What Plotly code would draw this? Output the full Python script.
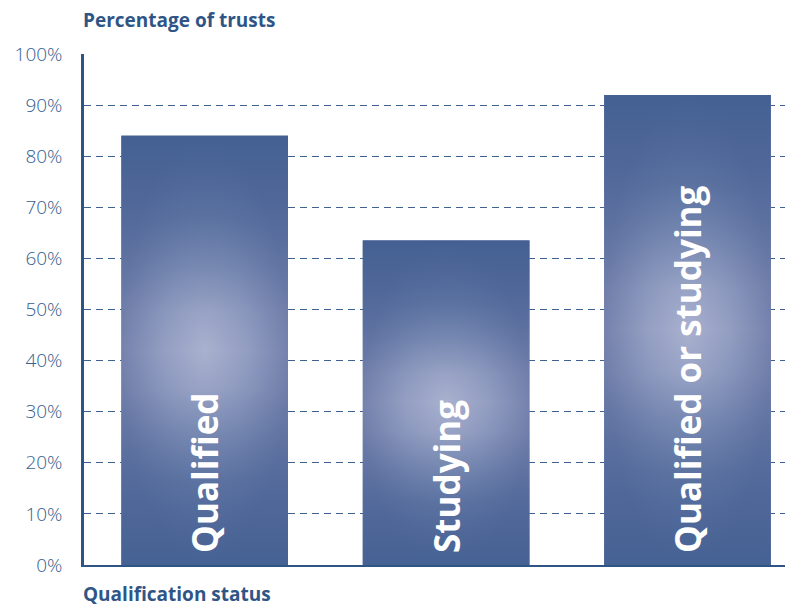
import plotly.graph_objects as go

categories = ["Qualified", "Studying", "Qualified or studying"]
values = [84, 63.5, 92]
y_ticks = [0, 10, 20, 30, 40, 50, 60, 70, 80, 90, 100]
y_tick_labels = [f"{t}%" for t in y_ticks]

BAR_W = 0.69
DARK = "#2f5587"
TICK_COL = "#36608f"
positions = list(range(len(categories)))

fig = go.Figure()

# base bars (solid)
fig.add_trace(go.Bar(
    x=positions, y=values, width=BAR_W,
    marker=dict(color="#5a70a0", line=dict(width=0)),
    hoverinfo="skip", showlegend=False,
))

# radial light centre + vertical darkening to mimic the circular gradient
radial_scale = [[0, "#aab1cf"], [0.5, "#939ec2"], [1, "#7682ad"]]
shade = "61,91,143"
vertical_scale = [
    [0.0, f"rgba({shade},0.85)"], [0.2, f"rgba({shade},0.6)"],
    [0.31, f"rgba({shade},0.35)"], [0.41, f"rgba({shade},0.1)"],
    [0.5, f"rgba({shade},0)"],
    [0.59, f"rgba({shade},0.1)"], [0.69, f"rgba({shade},0.35)"],
    [0.8, f"rgba({shade},0.6)"], [1.0, f"rgba({shade},0.88)"],
]
for p, v in zip(positions, values):
    xs = [p - BAR_W / 2, p - BAR_W / 2, p + BAR_W / 2, p + BAR_W / 2, p - BAR_W / 2]
    ys = [0, v, v, 0, 0]
    fig.add_trace(go.Scatter(
        x=xs, y=ys, mode="lines", line=dict(width=0), fill="toself",
        fillgradient=dict(type="radial", colorscale=radial_scale),
        hoverinfo="skip", showlegend=False,
    ))
    fig.add_trace(go.Scatter(
        x=xs, y=ys, mode="lines", line=dict(width=0), fill="toself",
        fillgradient=dict(type="vertical", colorscale=vertical_scale, start=0, stop=v),
        hoverinfo="skip", showlegend=False,
    ))

# labels on an overlaid axis so they sit above the gradient
fig.add_trace(go.Bar(
    x=positions, y=values, width=BAR_W, xaxis="x2", yaxis="y2",
    marker=dict(color="rgba(0,0,0,0)", line=dict(width=0)),
    text=["\u00a0" + c for c in categories], textposition="inside", insidetextanchor="start",
    textangle=-90, constraintext="none",
    textfont=dict(family="Open Sans", size=35, color="white", weight="bold"),
    hoverinfo="skip", showlegend=False,
))

xr = [-0.5, 2.437]
fig.update_layout(
    width=785, height=598,
    margin=dict(l=76, r=0, t=46, b=41),
    paper_bgcolor="white", plot_bgcolor="white",
    showlegend=False,
    xaxis=dict(range=xr, showgrid=False, zeroline=False, showticklabels=False,
               ticks="", showline=True, linecolor=DARK, linewidth=2),
    yaxis=dict(range=[0, 100], tickmode="array", tickvals=y_ticks, ticktext=y_tick_labels,
               showgrid=True, gridcolor="#3f6192", gridwidth=1, griddash="7px,5px",
               zeroline=False, showline=True, linecolor=DARK, linewidth=2.5,
               ticks="", ticklabelstandoff=15,
               tickfont=dict(family="Open Sans", size=19, color=TICK_COL, weight=300)),
    xaxis2=dict(range=xr, overlaying="x", visible=False),
    yaxis2=dict(range=[0, 100], overlaying="y", visible=False),
    annotations=[
        dict(text="Percentage of trusts", xref="paper", yref="paper", x=0, y=1,
             xanchor="left", yanchor="bottom", yshift=19, xshift=-3, showarrow=False,
             font=dict(family="Open Sans", size=19, color=DARK, weight="bold")),
        dict(text="Qualification status", xref="paper", yref="paper", x=0, y=0,
             xanchor="left", yanchor="top", yshift=-14, xshift=-3, showarrow=False,
             font=dict(family="Open Sans", size=19, color=DARK, weight="bold")),
    ],
)

fig.write_html("out.html")
